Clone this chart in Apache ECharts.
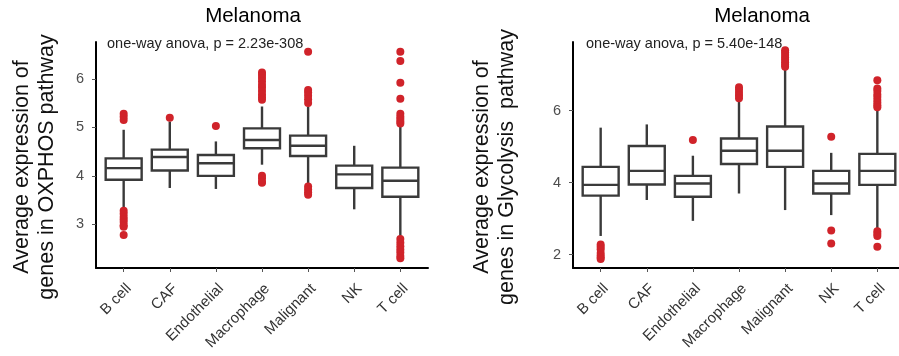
<!DOCTYPE html>
<html>
<head>
<meta charset="utf-8">
<script src="https://cdn.jsdelivr.net/npm/echarts@6/dist/echarts.min.js"></script>
<style>
  html, body { margin: 0; padding: 0; background: #fff; }
  #chart { width: 899px; height: 356px; }
</style>
</head>
<body>
<div id="chart"></div>
<script>
// cell types on the x axis
const categories = ['B cell', 'CAF', 'Endothelial', 'Macrophage', 'Malignant', 'NK', 'T cell']

// [min whisker, Q1, median, Q3, max whisker]
const oxphosBox = [
  [3.33, 3.92, 4.16, 4.36, 4.95],
  [3.75, 4.11, 4.39, 4.54, 5.12],
  [3.73, 4.00, 4.26, 4.43, 4.71],
  [4.23, 4.57, 4.74, 4.98, 5.43],
  [3.81, 4.41, 4.62, 4.83, 5.43],
  [3.31, 3.75, 4.03, 4.21, 4.62],
  [2.76, 3.57, 3.90, 4.17, 5.04]
]
const oxphosOutliers = [
  [5.28, 5.22, 5.15, 3.28, 3.22, 3.15, 3.10, 3.05, 2.98, 2.95, 2.78],
  [5.20],
  [5.03],
  [6.13, 6.08, 6.02, 5.95, 5.88, 5.82, 5.75, 5.68, 5.62, 5.57, 4.00, 3.95, 3.88, 3.86],
  [6.56, 5.77, 5.72, 5.65, 5.58, 5.50, 3.78, 3.72, 3.66, 3.61],
  [],
  [6.56, 6.37, 5.92, 5.59, 5.28, 5.22, 5.17, 5.12, 5.08, 2.70, 2.62, 2.55, 2.48, 2.42, 2.35, 2.30]
]

const glycoBox = [
  [2.52, 3.64, 3.94, 4.44, 5.53],
  [3.52, 3.95, 4.33, 5.02, 5.62],
  [2.94, 3.61, 3.98, 4.19, 4.75],
  [3.70, 4.52, 4.89, 5.23, 6.30],
  [3.24, 4.44, 4.89, 5.56, 7.16],
  [3.10, 3.70, 3.98, 4.33, 4.83],
  [2.73, 3.94, 4.33, 4.80, 6.06]
]
const glycoOutliers = [
  [2.28, 2.22, 2.15, 2.05, 1.98, 1.92, 1.88],
  [],
  [5.19],
  [6.65, 6.58, 6.50, 6.42, 6.35],
  [7.68, 7.62, 7.55, 7.48, 7.42, 7.35, 7.28, 7.22],
  [5.28, 2.67, 2.31],
  [6.85, 6.62, 6.55, 6.45, 6.38, 6.30, 6.22, 6.15, 6.10, 2.65, 2.58, 2.52, 2.22]
]

const oxphosTicks = [3, 4, 5, 6]
const glycoTicks = [2, 4, 6]
const catPositions = [1, 2, 3, 4, 5, 6, 7]

const boxColor = '#3a3a3a'
const dotColor = '#d0232a'
const fontFamily = 'Liberation Sans, Arial, sans-serif'

function boxData (box) {
  return box.map((b, i) => [i + 1].concat(b))
}
function outlierData (outs) {
  const res = []
  outs.forEach((list, i) => {
    list.forEach(v => res.push([i + 1, v]))
  })
  return res
}

// ggplot-like box: no whisker caps
function renderBox (params, api) {
  const x = api.value(0)
  const pMin = api.coord([x, api.value(1)])
  const pQ1 = api.coord([x, api.value(2)])
  const pMed = api.coord([x, api.value(3)])
  const pQ3 = api.coord([x, api.value(4)])
  const pMax = api.coord([x, api.value(5)])
  const half = api.size([0.78, 0])[0] / 2
  const lineStyle = { stroke: boxColor, lineWidth: 2.4, fill: null }
  return {
    type: 'group',
    children: [
      { type: 'line', shape: { x1: pMin[0], y1: pMin[1], x2: pQ1[0], y2: pQ1[1] }, style: lineStyle },
      { type: 'line', shape: { x1: pQ3[0], y1: pQ3[1], x2: pMax[0], y2: pMax[1] }, style: lineStyle },
      {
        type: 'rect',
        shape: { x: pQ1[0] - half, y: pQ3[1], width: half * 2, height: pQ1[1] - pQ3[1] },
        style: { stroke: boxColor, lineWidth: 2.4, fill: '#fff' }
      },
      { type: 'line', shape: { x1: pMed[0] - half, y1: pMed[1], x2: pMed[0] + half, y2: pMed[1] }, style: lineStyle }
    ]
  }
}

function xAxisFor (gridIndex) {
  return {
    type: 'value',
    gridIndex: gridIndex,
    min: 0.4,
    max: 7.6,
    splitLine: { show: false },
    axisLine: { lineStyle: { color: '#000', width: 2 } },
    axisTick: { customValues: catPositions, length: 4, lineStyle: { color: '#555', width: 1 } },
    axisLabel: {
      customValues: catPositions,
      formatter: v => categories[Math.round(v) - 1],
      rotate: 45,
      margin: 13,
      verticalAlign: 'top',
      fontSize: 15,
      color: '#333',
      fontFamily: fontFamily
    }
  }
}

function yAxisFor (gridIndex, min, max, ticks, name) {
  return {
    type: 'value',
    gridIndex: gridIndex,
    min: min,
    max: max,
    name: name,
    nameLocation: 'middle',
    nameRotate: 90,
    nameGap: gridIndex === 0 ? 36 : 53,
    nameTextStyle: { fontSize: 21.5, lineHeight: 25, color: '#111', fontFamily: fontFamily, padding: [0, 24, 0, 0] },
    splitLine: { show: false },
    axisLine: { show: true, lineStyle: { color: '#000', width: 2 } },
    axisTick: { show: true, customValues: ticks, length: 4, lineStyle: { color: '#555', width: 1 } },
    axisLabel: { customValues: ticks, margin: 12, fontSize: 14.5, color: '#4d4d4d', fontFamily: fontFamily }
  }
}

const chart = echarts.init(document.getElementById('chart'), null, { renderer: 'canvas' })

const option = {
  backgroundColor: '#fff',
  animation: false,
  title: [
    { text: 'Melanoma', left: 248, top: 1, textAlign: 'center', textStyle: { fontSize: 20.5, fontWeight: 'normal', color: '#000', fontFamily: fontFamily } },
    { text: 'Melanoma', left: 757, top: 1, textAlign: 'center', textStyle: { fontSize: 20.5, fontWeight: 'normal', color: '#000', fontFamily: fontFamily } },
    { text: 'one-way anova, p = 2.23e-308', left: 102, top: 31, textStyle: { fontSize: 14.5, fontWeight: 'normal', color: '#222', fontFamily: fontFamily } },
    { text: 'one-way anova, p = 5.40e-148', left: 581, top: 31, textStyle: { fontSize: 14.5, fontWeight: 'normal', color: '#222', fontFamily: fontFamily } }
  ],
  grid: [
    { left: 96, top: 42, width: 332, height: 226, outerBoundsMode: 'none' },
    { left: 573, top: 42, width: 332, height: 226, outerBoundsMode: 'none' }
  ],
  xAxis: [xAxisFor(0), xAxisFor(1)],
  yAxis: [
    yAxisFor(0, 2.1, 6.76, oxphosTicks, 'Average expression of\ngenes in OXPHOS pathway'),
    yAxisFor(1, 1.63, 7.91, glycoTicks, 'Average expression of\ngenes in Glycolysis  pathway')
  ],
  series: [
    {
      type: 'custom',
      xAxisIndex: 0,
      yAxisIndex: 0,
      renderItem: renderBox,
      encode: { x: 0, y: [1, 2, 3, 4, 5] },
      data: boxData(oxphosBox),
      z: 2
    },
    {
      type: 'scatter',
      xAxisIndex: 0,
      yAxisIndex: 0,
      symbol: 'circle',
      symbolSize: 8,
      itemStyle: { color: dotColor, opacity: 1 },
      data: outlierData(oxphosOutliers),
      z: 3
    },
    {
      type: 'custom',
      xAxisIndex: 1,
      yAxisIndex: 1,
      renderItem: renderBox,
      encode: { x: 0, y: [1, 2, 3, 4, 5] },
      data: boxData(glycoBox),
      z: 2
    },
    {
      type: 'scatter',
      xAxisIndex: 1,
      yAxisIndex: 1,
      symbol: 'circle',
      symbolSize: 8,
      itemStyle: { color: dotColor, opacity: 1 },
      data: outlierData(glycoOutliers),
      z: 3
    }
  ]
}

chart.setOption(option)
</script>
</body>
</html>
